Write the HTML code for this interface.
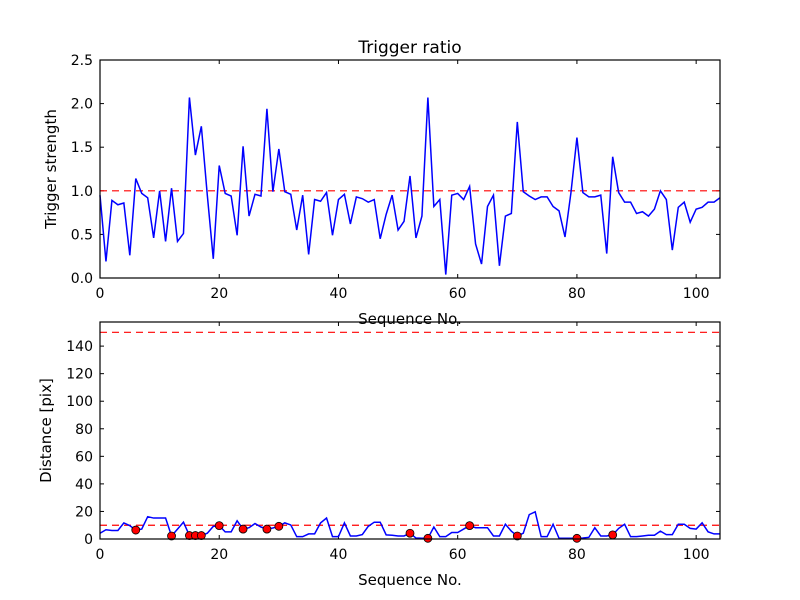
<!DOCTYPE html>
<html><head><meta charset="utf-8"><style>
body{margin:0;background:#fff}
svg{display:block}
text{font-family:"DejaVu Sans","Liberation Sans",sans-serif;fill:#000}
</style></head><body>
<svg id="chart" width="800" height="600" viewBox="0 0 800 600">
<rect width="800" height="600" fill="#fff"/>
</svg>
<script>
const ratioValues=[0.95,0.19,0.89,0.84,0.86,0.26,1.14,0.97,0.92,0.46,1.0,0.42,1.03,0.42,0.51,2.07,1.41,1.74,0.95,0.22,1.29,0.97,0.94,0.49,1.51,0.71,0.96,0.94,1.94,0.99,1.48,0.99,0.96,0.55,0.95,0.27,0.90,0.88,0.98,0.49,0.90,0.96,0.62,0.93,0.91,0.87,0.90,0.45,0.73,0.95,0.55,0.65,1.17,0.46,0.71,2.07,0.82,0.90,0.04,0.95,0.97,0.90,1.05,0.39,0.16,0.82,0.95,0.14,0.71,0.74,1.79,0.99,0.94,0.90,0.93,0.93,0.82,0.77,0.47,0.98,1.61,0.98,0.93,0.93,0.95,0.28,1.39,0.98,0.87,0.87,0.74,0.76,0.71,0.79,1.0,0.90,0.32,0.81,0.87,0.64,0.79,0.81,0.87,0.87,0.92];
const distValues=[4.2,6.7,6.2,6.2,11.7,9.7,6.5,7.2,16.2,15.2,15.2,15.2,2.2,7.2,12.2,2.5,2.5,2.5,4.2,9.2,9.7,5.2,5.2,13.2,7.2,8.2,11.2,8.7,7.2,8,9.2,11.7,10.2,1.7,1.7,3.7,3.7,11.7,15.2,1.7,1.7,11.7,2.2,2.2,3.2,9.2,12.2,12.2,3,2.7,2.2,2.2,4.2,0.7,0.5,0.5,8.7,1.7,1.7,4.7,4.7,7.2,9.7,8.2,8.2,8.2,2.2,2.2,10.7,5.7,2.2,4.2,17.7,19.7,1.7,1.7,10.7,0.5,0.5,0.5,0.5,0.7,1.2,8.2,2.2,2.2,3,7.7,10.7,1.7,1.7,2.2,2.7,2.7,5.7,3.2,3.2,10.7,10.7,7.7,7.2,11.7,5.2,3.7,3.7];
const markedIdx=[6,12,15,16,17,20,24,28,30,52,55,62,70,80,86];
const xTicks=[0,20,40,60,80,100];
const topYTicks=[0,0.5,1.0,1.5,2.0,2.5];
const topYLabels=["0.0","0.5","1.0","1.5","2.0","2.5"];
const botYTicks=[0,20,40,60,80,100,120,140];
const ratioThreshold=[1.0];
const distThresholds=[10,150];

const NS="http://www.w3.org/2000/svg";
const svg=document.getElementById('chart');
function mk(tag,attrs,parent){const e=document.createElementNS(NS,tag);for(const k in attrs)e.setAttribute(k,attrs[k]);(parent||svg).appendChild(e);return e;}
const L=100,R=720,XMAX=104;
const xs=v=>L+(R-L)*v/XMAX;
function axes(top,bot,ymax,yticks,ylabels,ylabel,name){
  const ys=v=>bot-(bot-top)*v/ymax;
  const g=mk('g',{});
  
  
  xTicks.forEach(t=>{
    mk('line',{x1:xs(t),x2:xs(t),y1:bot,y2:bot-4,stroke:'#000'},g);
    mk('line',{x1:xs(t),x2:xs(t),y1:top,y2:top+4,stroke:'#000'},g);
    const tx=mk('text',{x:xs(t),y:bot+20,'text-anchor':'middle','font-size':'14'},g);
    tx.textContent=t;
    
    
  });
  yticks.forEach((t,i)=>{
    mk('line',{x1:L,x2:L+4,y1:ys(t),y2:ys(t),stroke:'#000'},g);
    mk('line',{x1:R,x2:R-4,y1:ys(t),y2:ys(t),stroke:'#000'},g);
    const tx=mk('text',{x:L-7,y:ys(t)+5,'text-anchor':'end','font-size':'14'},g);
    tx.textContent=ylabels?ylabels[i]:t;
    
    
  });
  const yl=mk('text',{x:0,y:0,'text-anchor':'middle','font-size':'15',transform:`translate(${name==='top-axes'?56:51},${(top+bot)/2}) rotate(-90)`},g);
  yl.textContent=ylabel;
  
  
  const xl=mk('text',{x:(L+R)/2,y:bot+46,'text-anchor':'middle','font-size':'15'},g);
  xl.textContent='Sequence No.';
  
  
  return ys;
}
// top
const ys1=axes(60,278,2.5,topYTicks,topYLabels,'Trigger strength','top-axes');
ratioThreshold.forEach(v=>{const l=mk('line',{x1:L,x2:R,y1:ys1(v),y2:ys1(v),stroke:'#f00','stroke-width':'1.2','stroke-dasharray':'7,5'});

});
const p1=mk('polyline',{points:ratioValues.map((v,i)=>xs(i)+','+ys1(v)).join(' '),fill:'none',stroke:'#00f','stroke-width':'1.5'});


mk('rect',{x:L,y:60,width:R-L,height:218,fill:'none',stroke:'#000','stroke-width':'1.2'});
const ti=mk('text',{x:410,y:53,'text-anchor':'middle','font-size':'17'});
ti.textContent='Trigger ratio';


// bottom
const ys2=axes(322,539,157.5,botYTicks,null,'Distance [pix]','bottom-axes');
distThresholds.forEach(v=>{const l=mk('line',{x1:L,x2:R,y1:ys2(v),y2:ys2(v),stroke:'#f00','stroke-width':'1.2','stroke-dasharray':'7,5'});

});
const p2=mk('polyline',{points:distValues.map((v,i)=>xs(i)+','+ys2(v)).join(' '),fill:'none',stroke:'#00f','stroke-width':'1.5'});


markedIdx.forEach(i=>{const c=mk('circle',{cx:xs(i),cy:ys2(distValues[i]),r:4,fill:'#f00',stroke:'#000','stroke-width':'0.8'});

});
mk('rect',{x:L,y:322,width:R-L,height:217,fill:'none',stroke:'#000','stroke-width':'1.2'});
</script>
</body></html>
